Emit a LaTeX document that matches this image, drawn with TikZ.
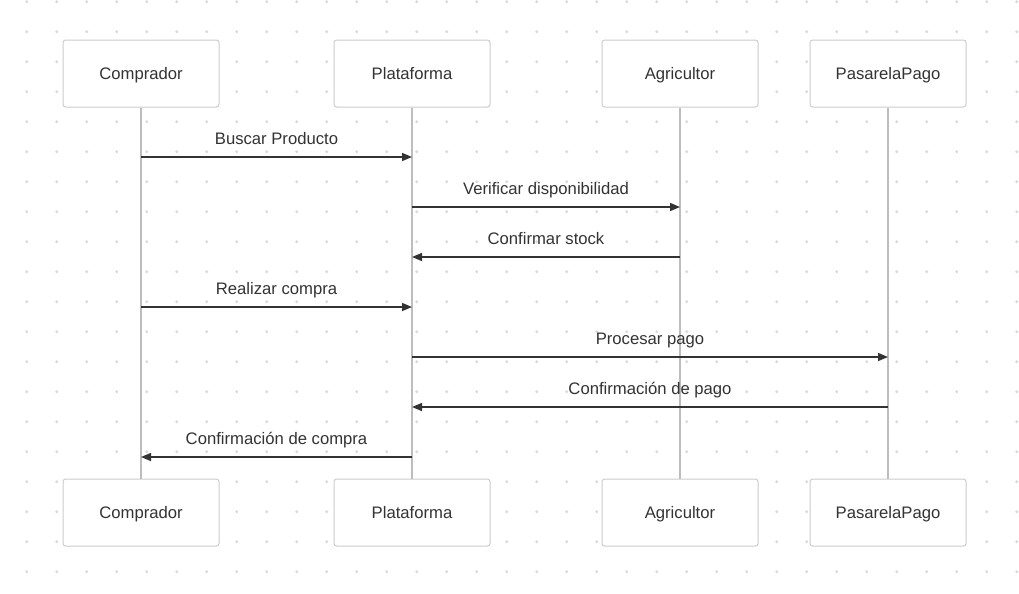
\documentclass[tikz,border=0pt]{standalone}
\usepackage{fontspec}
\setmainfont{Liberation Sans}
\usetikzlibrary{arrows.meta,positioning}

\definecolor{txtgray}{HTML}{333333}
\definecolor{boxline}{HTML}{CCCCCC}
\definecolor{lifegray}{HTML}{BDBDBD}
\definecolor{dotgray}{HTML}{D9D9D9}

\begin{document}
\begin{tikzpicture}[x=0.75pt,y=-0.75pt,
    actor/.style={draw=boxline,line width=0.75pt,rounded corners=2pt,fill=white,
      minimum width=117pt,minimum height=50.25pt,text height=0.96em,text depth=0em,
      font=\fontsize{12.5}{15}\selectfont,text=txtgray},
    lifeline/.style={draw=lifegray,line width=1.5pt},
    msg/.style={draw=txtgray,line width=1.1pt,-{Triangle[length=7.5pt,width=6pt]}},
    lbl/.style={midway,anchor=base,yshift=9.75pt,font=\fontsize{12.5}{15}\selectfont,text=txtgray}]

    \useasboundingbox[fill=white] (0,0) rectangle (1019,593);

    % dotted background
    \foreach \i in {0,...,33}
      \foreach \j in {0,...,19}
        \fill[dotgray] (26.7+30*\i,1.7+30*\j) circle (1.2pt);

    % participants
    \node[actor] (comp) at (141,73.5) {Comprador};
    \node[actor] (plat) [right=85.5pt of comp] {Plataforma};
    \node[actor] (agri) [right=83.25pt of plat] {Agricultor};
    \node[actor] (pago) [right=38.25pt of agri] {PasarelaPago};

    \node[actor] (comp2) [below=278.25pt of comp] {Comprador};
    \node[actor] (plat2) [below=278.25pt of plat] {Plataforma};
    \node[actor] (agri2) [below=278.25pt of agri] {Agricultor};
    \node[actor] (pago2) [below=278.25pt of pago] {PasarelaPago};

    \foreach \p in {comp,plat,agri,pago}
      \draw[lifeline] (\p.south) -- (\p2.north);

    % messages
    \coordinate (m1) at (0,157);
    \coordinate (m2) at (0,207);
    \coordinate (m3) at (0,257);
    \coordinate (m4) at (0,307);
    \coordinate (m5) at (0,357);
    \coordinate (m6) at (0,407);
    \coordinate (m7) at (0,457);

    \draw[msg] (comp |- m1) -- node[lbl] {Buscar Producto} (plat |- m1);
    \draw[msg] (plat |- m2) -- node[lbl] {Verificar disponibilidad} (agri |- m2);
    \draw[msg] (agri |- m3) -- node[lbl] {Confirmar stock} (plat |- m3);
    \draw[msg] (comp |- m4) -- node[lbl] {Realizar compra} (plat |- m4);
    \draw[msg] (plat |- m5) -- node[lbl] {Procesar pago} (pago |- m5);
    \draw[msg] (pago |- m6) -- node[lbl] {Confirmación de pago} (plat |- m6);
    \draw[msg] (plat |- m7) -- node[lbl] {Confirmación de compra} (comp |- m7);

\end{tikzpicture}
\end{document}
